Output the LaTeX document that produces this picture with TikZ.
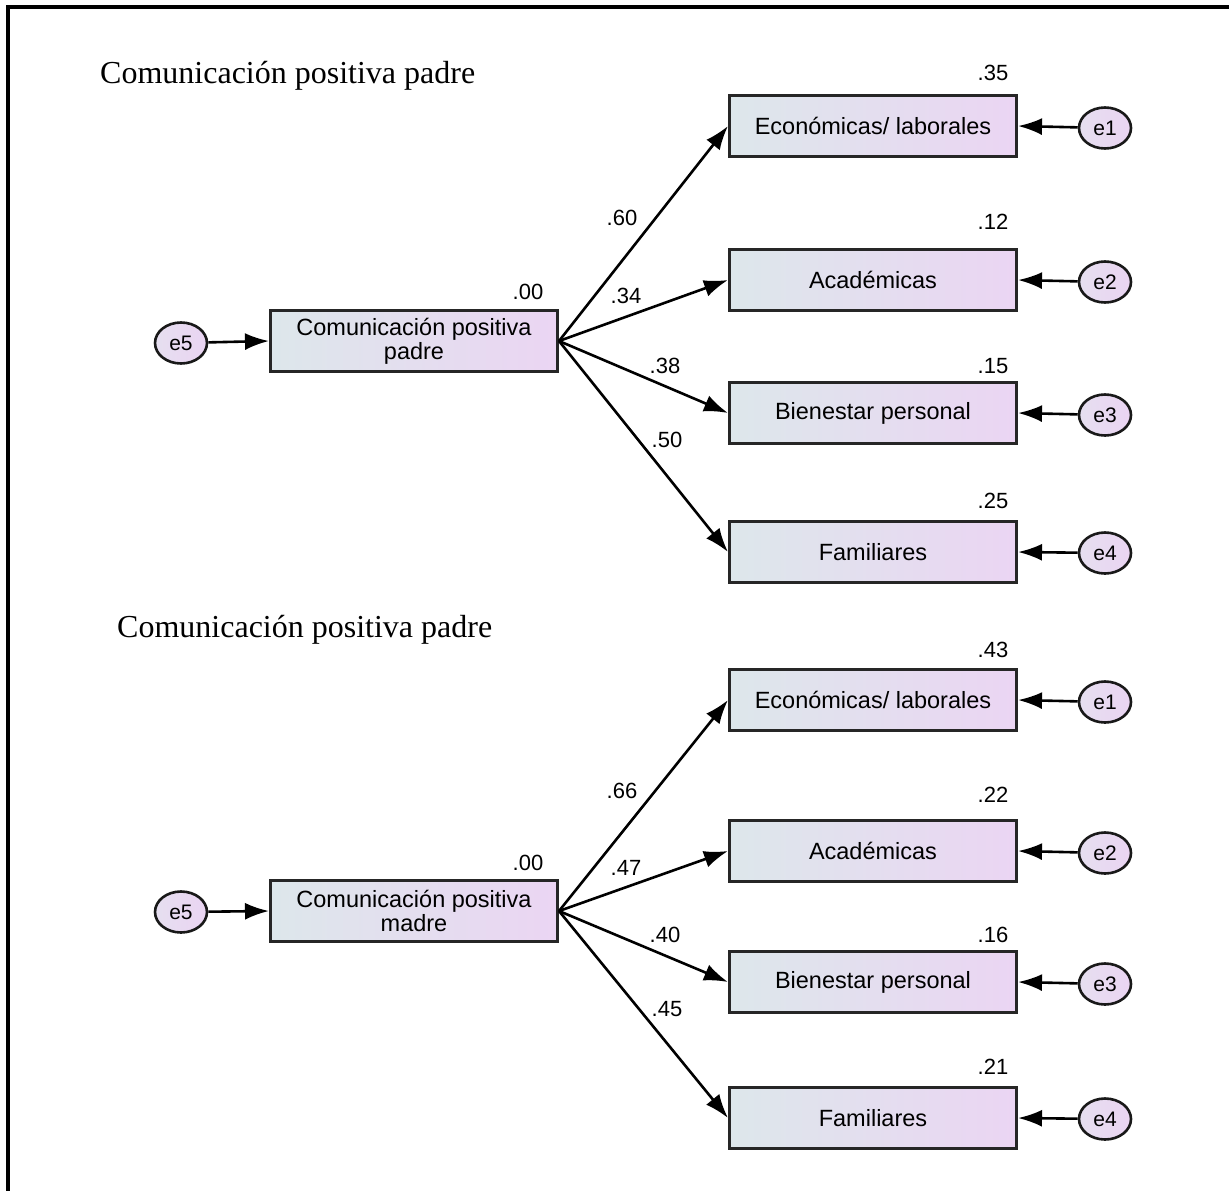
\documentclass[tikz,border=0pt]{standalone}
\usepackage{fontspec}
\setmainfont{Liberation Serif}
\newfontfamily\amosfont{Liberation Sans}
\usetikzlibrary{shapes.geometric,arrows.meta}

\definecolor{boxleft}{HTML}{DDE7EB}
\definecolor{boxright}{HTML}{EBD5F3}
\definecolor{errleft}{HTML}{E6DFF0}
\definecolor{errright}{HTML}{EAD4F2}

\tikzset{
  varbox/.style={draw=black!85, line width=3pt, left color=boxleft, right color=boxright,
    minimum width=287pt, minimum height=61pt, inner sep=0pt, align=center,
    font=\amosfont\fontsize{23.5}{24}\selectfont},
  errvar/.style={ellipse, draw=black!90, line width=2.6pt, left color=errleft, right color=errright,
    minimum width=52pt, minimum height=41pt, inner sep=0pt,
    font=\amosfont\fontsize{21}{22}\selectfont},
  coefarrow/.style={line width=2.6pt, -{Latex[length=24pt,width=17pt]}},
  coef/.style={inner sep=0pt, font=\amosfont\fontsize{22}{24}\selectfont},
  heading/.style={anchor=base west, inner sep=0pt, font=\fontsize{32}{36}\selectfont}
}

\begin{document}
\begin{tikzpicture}[x=1pt,y=-1pt]
\useasboundingbox (0,0) rectangle (1229,1191);

% frame
\draw [line width=3.2pt] (8,1191) -- (8,7) -- (1229,7);

%% padre
\node [heading] (tpadre) at (100,83) {Comunicación positiva padre};

\node [errvar] (pe5) at (181,343) {e5};
\node [varbox] (padre) at (414,341) {Comunicación positiva\\padre};
\node [coef] (rpadre) at (528,292) {.00};

\node [varbox] (pecon) at (873,126) {Económicas/ laborales};
\node [varbox] (pacad) at (873,280) {Académicas};
\node [varbox] (pbien) at (873,413) {Bienestar personal};
\node [varbox] (pfam) at (873,552) {Familiares};

\node [coef] (rpecon) at (993,73) {.35};
\node [coef] (rpacad) at (993,222) {.12};
\node [coef] (rpbien) at (993,366) {.15};
\node [coef] (rpfam) at (993,501) {.25};

\node [errvar] (pe1) at (1105,128) {e1};
\node [errvar] (pe2) at (1105,282) {e2};
\node [errvar] (pe3) at (1105,415) {e3};
\node [errvar] (pe4) at (1105,553) {e4};

\draw [coefarrow] (pe5) -- (padre.west);
\draw [coefarrow] (padre.east) -- (pecon.west);
\draw [coefarrow] (padre.east) -- (pacad.west);
\draw [coefarrow] (padre.east) -- (pbien.west);
\draw [coefarrow] (padre.east) -- (pfam.west);
\draw [coefarrow] (pe1) -- (pecon.east);
\draw [coefarrow] (pe2) -- (pacad.east);
\draw [coefarrow] (pe3) -- (pbien.east);
\draw [coefarrow] (pe4) -- (pfam.east);

\node [coef] (wpecon) at (622,218) {.60};
\node [coef] (wpacad) at (626,296) {.34};
\node [coef] (wpbien) at (665,366) {.38};
\node [coef] (wpfam) at (667,440) {.50};

%% madre
\node [heading] (tmadre) at (117,637) {Comunicación positiva padre};

\node [errvar] (me5) at (181,912) {e5};
\node [varbox] (madre) at (414,911) {Comunicación positiva\\madre};
\node [coef] (rmadre) at (528,863) {.00};

\node [varbox] (mecon) at (873,700) {Económicas/ laborales};
\node [varbox] (macad) at (873,851) {Académicas};
\node [varbox] (mbien) at (873,982) {Bienestar personal};
\node [varbox] (mfam) at (873,1118) {Familiares};

\node [coef] (rmecon) at (993,650) {.43};
\node [coef] (rmacad) at (993,795) {.22};
\node [coef] (rmbien) at (993,935) {.16};
\node [coef] (rmfam) at (993,1067) {.21};

\node [errvar] (me1) at (1105,702) {e1};
\node [errvar] (me2) at (1105,853) {e2};
\node [errvar] (me3) at (1105,984) {e3};
\node [errvar] (me4) at (1105,1119) {e4};

\draw [coefarrow] (me5) -- (madre.west);
\draw [coefarrow] (madre.east) -- (mecon.west);
\draw [coefarrow] (madre.east) -- (macad.west);
\draw [coefarrow] (madre.east) -- (mbien.west);
\draw [coefarrow] (madre.east) -- (mfam.west);
\draw [coefarrow] (me1) -- (mecon.east);
\draw [coefarrow] (me2) -- (macad.east);
\draw [coefarrow] (me3) -- (mbien.east);
\draw [coefarrow] (me4) -- (mfam.east);

\node [coef] (wmecon) at (622,791) {.66};
\node [coef] (wmacad) at (626,868) {.47};
\node [coef] (wmbien) at (665,935) {.40};
\node [coef] (wmfam) at (667,1009) {.45};
\end{tikzpicture}
\end{document}
